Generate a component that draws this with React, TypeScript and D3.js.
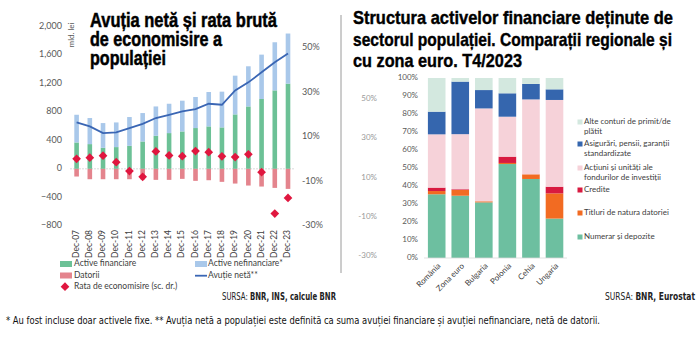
import React from "react";
import * as d3 from "d3";

// ---------- Left chart data ----------
const years = ["Dec-07","Dec-08","Dec-09","Dec-10","Dec-11","Dec-12","Dec-13","Dec-14","Dec-15","Dec-16","Dec-17","Dec-18","Dec-19","Dec-20","Dec-21","Dec-22","Dec-23"];
const activeFinanciare = [371, 348, 296, 306, 324, 385, 465, 503, 526, 574, 597, 583, 766, 878, 983, 1104, 1199];
const activeNefinanciare = [390, 367, 348, 347, 405, 400, 413, 413, 433, 437, 484, 503, 545, 565, 624, 677, 705];
const datorii = [-108, -146, -146, -146, -146, -150, -155, -155, -141, -169, -160, -183, -207, -235, -249, -268, -282];
const avutieNeta = [653, 597, 503, 512, 574, 634, 715, 761, 808, 841, 916, 902, 1104, 1217, 1358, 1499, 1622];
const rataEconomisire = [0.2, 0.7, 1.6, -1.3, -5.3, -7.9, 3.5, 1.7, 1.4, 3.7, 3.2, 1.3, 1.0, 2.2, -5.8, -24.4, -17.4];
const leftTicks = [-800, -400, 0, 400, 800, 1200, 1600, 2000];
const rightTicks = [-30, -10, 10, 30, 50];

// ---------- Right chart data ----------
const countries = ["România", "Zona euro", "Bulgaria", "Polonia", "Cehia", "Ungaria"];
const numerar = [35.4, 34.6, 30.9, 52.2, 43.9, 21.9];
const titluri = [1.8, 3.2, 0.6, 0.6, 2.6, 14.0];
const credite = [1.9, 0.4, 0, 3.5, 0, 3.7];
const actiuni = [29.6, 30.6, 51.6, 22.2, 41.6, 48.2];
const asigurari = [12.6, 29.2, 10.2, 13.0, 8.6, 5.9];
const alte = [18.7, 2.0, 6.7, 8.5, 3.3, 6.3];
const pctTicks = [0, 10, 20, 30, 40, 50, 60, 70, 80, 90, 100];
const ghostTicks = [50, 30, 10, -10, -30];

const seriesKeys = ["numerar", "titluri", "credite", "actiuni", "asigurari", "alte"];
const seriesColors: Record<string, string> = {
  numerar: "#6dbfa0",
  titluri: "#f26b22",
  credite: "#d81a40",
  actiuni: "#f6d2d9",
  asigurari: "#3566ae",
  alte: "#d3e8df",
};
const legendItems = [
  { key: "alte", lines: ["Alte conturi de primit/de", "plătit"] },
  { key: "asigurari", lines: ["Asigurări, pensii, garanții", "standardizate"] },
  { key: "actiuni", lines: ["Acțiuni și unități ale", "fondurilor de investiții"] },
  { key: "credite", lines: ["Credite"] },
  { key: "titluri", lines: ["Titluri de natura datoriei"] },
  { key: "numerar", lines: ["Numerar și depozite"] },
];

const HEAVY = "'Liberation Sans', Arial, sans-serif";
const COND = "'Liberation Sans Narrow', 'DejaVu Sans Condensed', 'Arial Narrow', sans-serif";
const SMALL = "Lato, 'Open Sans', sans-serif";

const C_FIN = "#6cc196";
const C_NEFIN = "#a9c8ea";
const C_DAT = "#e4848d";
const C_LINE = "#3a66b4";
const C_DIAM = "#e0173f";

export default function App() {
  // left scales
  const xL = d3.scalePoint<string>().domain(years).range([76.6, 288]);
  const yL = d3.scaleLinear().domain([-800, 2000]).range([225.7, 26.7]);
  const yR = d3.scaleLinear().domain([-30, 50]).range([226, 48]);
  const barW = 4.6;
  const fmt = d3.format(",");
  const linePath = d3
    .line<number>()
    .x((_, i) => xL(years[i]) as number)
    .y((d) => yL(d))(avutieNeta) as string;
  const diamond = d3.symbol().type(d3.symbolSquare).size(38)() as string;

  // right scales
  const xC = d3.scalePoint<string>().domain(countries).range([436.7, 554.5]);
  const yP = d3.scaleLinear().domain([0, 100]).range([258, 78]);
  const cW = 17.6;
  const table = countries.map((c, i) => ({
    country: c,
    numerar: numerar[i],
    titluri: titluri[i],
    credite: credite[i],
    actiuni: actiuni[i],
    asigurari: asigurari[i],
    alte: alte[i],
  }));
  const stacked = d3.stack<any>().keys(seriesKeys)(table);

  const legendY = [122, 144, 168, 190, 213, 237];

  return (
    <svg
      width={698}
      height={337}
      style={{ position: "absolute", left: 0, top: 0, display: "block", background: "#fff" }}
    >
      {/* ---------------- LEFT CHART ---------------- */}
      <g fontFamily={HEAVY} fontWeight="bold" fill="#000" stroke="#000" strokeWidth={0.5} fontSize={19.5}>
        <text x={90} y={27} textLength={187} lengthAdjust="spacingAndGlyphs">Avuția netă și rata brută</text>
        <text x={90} y={46} textLength={132} lengthAdjust="spacingAndGlyphs">de economisire a</text>
        <text x={90} y={65} textLength={76} lengthAdjust="spacingAndGlyphs">populației</text>
      </g>

      {/* left axis ticks */}
      <g fontFamily={SMALL} fontSize={9} fill="#595959">
        {leftTicks.map((t) => (
          <text key={t} x={62} y={yL(t)} textAnchor="end" dominantBaseline="middle">
            {fmt(t)}
          </text>
        ))}
        {rightTicks.map((t) => (
          <text key={t} x={302} y={yR(t)} dominantBaseline="middle">
            {t}%
          </text>
        ))}
        <text transform={`translate(74,35) rotate(-90)`} textAnchor="middle" fontSize={8}>
          mld. lei
        </text>
      </g>

      {/* zero line */}
      <line x1={70} x2={294} y1={yL(0)} y2={yL(0)} stroke="#d0d0d0" strokeWidth={0.8} strokeDasharray="2,1" />

      {/* bars */}
      {years.map((yr, i) => {
        const cx = xL(yr) as number;
        const f = activeFinanciare[i];
        const n = activeNefinanciare[i];
        const dt = datorii[i];
        return (
          <g key={yr}>
            <rect x={cx - barW / 2} y={yL(f)} width={barW} height={yL(0) - yL(f)} fill={C_FIN} />
            <rect x={cx - barW / 2} y={yL(f + n)} width={barW} height={yL(f) - yL(f + n)} fill={C_NEFIN} />
            <rect x={cx - barW / 2} y={yL(0)} width={barW} height={yL(dt) - yL(0)} fill={C_DAT} />
          </g>
        );
      })}

      <path d={linePath} fill="none" stroke={C_LINE} strokeWidth={1.8} />

      {rataEconomisire.map((r, i) => (
        <path
          key={i}
          d={diamond}
          transform={`translate(${xL(years[i])},${yR(r)}) rotate(45)`}
          fill={C_DIAM}
        />
      ))}

      {/* x labels */}
      <g fontFamily={SMALL} fontSize={8.5} fill="#404040">
        {years.map((yr) => (
          <text
            key={yr}
            transform={`translate(${xL(yr)},230) rotate(-90)`}
            textAnchor="end"
            dominantBaseline="middle"
          >
            {yr}
          </text>
        ))}
      </g>

      {/* left legend */}
      <g fontFamily={SMALL} fontSize={8.5} fill="#404040">
        <rect x={60} y={261} width={12} height={6} fill={C_FIN} />
        <text x={74} y={264} dominantBaseline="middle">Active financiare</text>
        <rect x={195} y={261} width={12} height={6} fill={C_NEFIN} />
        <text x={208} y={264} dominantBaseline="middle">Active nefinanciare*</text>
        <rect x={60} y={272.5} width={12} height={6} fill={C_DAT} />
        <text x={74} y={275.7} dominantBaseline="middle">Datorii</text>
        <line x1={195} x2={207} y1={275.7} y2={275.7} stroke={C_LINE} strokeWidth={1.8} />
        <text x={208} y={275.7} dominantBaseline="middle">Avuție netă**</text>
        <path d={diamond} transform="translate(65,286.7) rotate(45)" fill={C_DIAM} />
        <text x={74} y={287} dominantBaseline="middle">Rata de economisire (sc. dr.)</text>
      </g>

      <text x={222} y={300} fontFamily={COND} fontSize={11} fill="#222" textLength={114} lengthAdjust="spacingAndGlyphs">
        SURSA: <tspan fontWeight="bold">BNR, INS, calcule BNR</tspan>
      </text>

      {/* divider */}
      <line x1={341} x2={341} y1={15} y2={273} stroke="#9a9a9a" strokeWidth={1} />

      {/* ---------------- RIGHT CHART ---------------- */}
      <g fontFamily={HEAVY} fontWeight="bold" fill="#000" stroke="#000" strokeWidth={0.4} fontSize={18.5}>
        <text x={353} y={24} textLength={320} lengthAdjust="spacingAndGlyphs">Structura activelor financiare deținute de</text>
        <text x={353} y={46} textLength={319} lengthAdjust="spacingAndGlyphs">sectorul populației. Comparații regionale și</text>
        <text x={353} y={67} textLength={169} lengthAdjust="spacingAndGlyphs">cu zona euro. T4/2023</text>
      </g>

      {/* ghost labels */}
      <g fontFamily={SMALL} fontSize={8} fill="#9a9a9a">
        {ghostTicks.map((t, i) => (
          <text key={t} x={377} y={99 + i * 39.3} textAnchor="end" dominantBaseline="middle">
            {t}%
          </text>
        ))}
      </g>

      <g fontFamily={SMALL} fontSize={8} fill="#595959">
        {pctTicks.map((t) => (
          <text key={t} x={418} y={yP(t)} textAnchor="end" dominantBaseline="middle">
            {t}%
          </text>
        ))}
      </g>

      {stacked.map((s) => (
        <g key={s.key} fill={seriesColors[s.key]}>
          {s.map((d, i) => (
            <rect
              key={i}
              x={(xC(countries[i]) as number) - cW / 2}
              y={yP(d[1])}
              width={cW}
              height={Math.max(0, yP(d[0]) - yP(d[1]))}
            />
          ))}
        </g>
      ))}
      <line x1={424} x2={567} y1={yP(0)} y2={yP(0)} stroke="#d9d9d9" strokeWidth={0.8} />

      <g fontFamily={SMALL} fontSize={8} fill="#404040">
        {countries.map((c) => (
          <text
            key={c}
            transform={`translate(${(xC(c) as number) + 3},265) rotate(-45)`}
            textAnchor="end"
            dominantBaseline="middle"
          >
            {c}
          </text>
        ))}
      </g>

      {/* right legend */}
      <g fontFamily={SMALL} fontSize={8} fill="#404040">
        {legendItems.map((it, i) => (
          <g key={it.key}>
            <rect x={577.5} y={legendY[i] - 2.5} width={5} height={5} fill={seriesColors[it.key]} />
            {it.lines.map((ln, j) => (
              <text key={j} x={584} y={legendY[i] + j * 10} dominantBaseline="middle">
                {ln}
              </text>
            ))}
          </g>
        ))}
      </g>

      <text x={695} y={300} textAnchor="end" fontFamily={COND} fontSize={11} fill="#222" textLength={90} lengthAdjust="spacingAndGlyphs">
        SURSA: <tspan fontWeight="bold">BNR, Eurostat</tspan>
      </text>

      {/* footnote */}
      <text x={6} y={324} fontFamily={COND} fontSize={11} fill="#111" textLength={594} lengthAdjust="spacingAndGlyphs">
        * Au fost incluse doar activele fixe. ** Avuția netă a populației este definită ca suma avuției financiare și avuției nefinanciare, netă de datorii.
      </text>
    </svg>
  );
}
